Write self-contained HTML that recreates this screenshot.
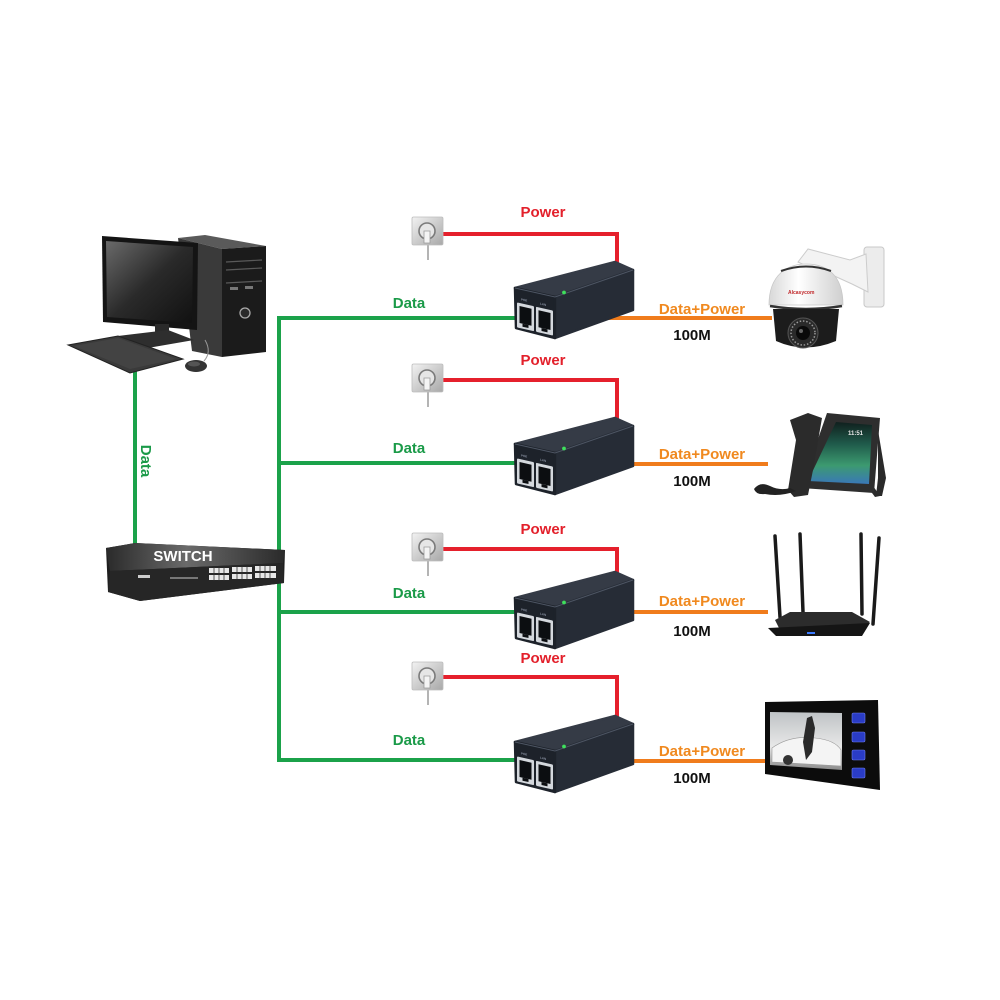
<!DOCTYPE html>
<html><head><meta charset="utf-8">
<style>
html,body{margin:0;padding:0;background:#fff;}
svg{display:block;}
text{font-family:"Liberation Sans",Arial,sans-serif;font-weight:bold;}
</style></head>
<body>
<svg width="1000" height="1000" viewBox="0 0 1000 1000" xmlns="http://www.w3.org/2000/svg">
<defs>
  <linearGradient id="scr" x1="0" y1="0" x2="1" y2="1">
    <stop offset="0" stop-color="#6a6a6a"/><stop offset="0.5" stop-color="#2a2a2a"/><stop offset="1" stop-color="#111"/>
  </linearGradient>
  <linearGradient id="sock" x1="0" y1="0" x2="1" y2="1">
    <stop offset="0" stop-color="#f2f2f2"/><stop offset="1" stop-color="#a8a8a8"/>
  </linearGradient>
  <linearGradient id="swtop" x1="0" y1="0" x2="1" y2="0">
    <stop offset="0" stop-color="#2a2a2a"/><stop offset="0.45" stop-color="#6a6a6a"/><stop offset="1" stop-color="#2a2a2a"/>
  </linearGradient>
  <linearGradient id="tab" x1="0" y1="0" x2="0" y2="1">
    <stop offset="0" stop-color="#10201e"/><stop offset="0.35" stop-color="#1f5a4a"/><stop offset="0.7" stop-color="#3c9a70"/><stop offset="1" stop-color="#3a78b8"/>
  </linearGradient>
  <linearGradient id="dome" x1="0" y1="0" x2="1" y2="0">
    <stop offset="0" stop-color="#d8d8d8"/><stop offset="0.4" stop-color="#ffffff"/><stop offset="1" stop-color="#cfcfcf"/>
  </linearGradient>
  <linearGradient id="photo" x1="0" y1="0" x2="0" y2="1">
    <stop offset="0" stop-color="#bfc3c6"/><stop offset="0.6" stop-color="#e8e8e8"/><stop offset="1" stop-color="#8a8a8a"/>
  </linearGradient>
  <g id="socket">
    <line x1="428" y1="240" x2="428" y2="260" stroke="#9a9a9a" stroke-width="1.5"/>
    <rect x="412" y="217" width="31" height="28" rx="1.5" fill="url(#sock)" stroke="#bdbdbd" stroke-width="0.8"/>
    <circle cx="427" cy="231" r="8" fill="#e6e6e6" stroke="#7a7a7a" stroke-width="1.6"/>
    <path d="M424,231 L430,231 L430,243 L424,243 Z" fill="#f4f4f4" stroke="#9a9a9a" stroke-width="0.8"/>
  </g>
  <g id="inj">
    <path d="M0,0 L40,9 L118,-18 L100,-26 Z" fill="#353b46" stroke="#353b46" stroke-width="2.5" stroke-linejoin="round"/>
    <path d="M40,9 L118,-18 L118,22 L40,50 Z" fill="#262c36" stroke="#262c36" stroke-width="2.5" stroke-linejoin="round"/>
    <path d="M0,0 L40,9 L40,50 L1,40 Z" fill="#1d222a" stroke="#1d222a" stroke-width="2.5" stroke-linejoin="round"/>
    <path d="M0,0 L40,9 L118,-18" fill="none" stroke="#4d5563" stroke-width="1"/>
    <g transform="skewY(12.7)">
      <text x="6" y="11" font-size="3" fill="#8890a0" font-weight="normal">POE</text>
      <text x="25" y="11" font-size="3" fill="#8890a0" font-weight="normal">LAN</text>
      <rect x="2" y="14" width="17" height="25" rx="1" fill="#d4d8dd"/>
      <rect x="4.5" y="17" width="12" height="17" fill="#0c0e11"/>
      <rect x="7.5" y="34" width="6" height="3" fill="#0c0e11"/>
      <rect x="21" y="14" width="17" height="25" rx="1" fill="#d4d8dd"/>
      <rect x="23.5" y="17" width="12" height="17" fill="#0c0e11"/>
      <rect x="26.5" y="34" width="6" height="3" fill="#0c0e11"/>
    </g>
    <circle cx="49" cy="4.5" r="1.9" fill="#3ee05c"/>
  </g>
</defs>

<rect width="1000" height="1000" fill="#fff"/>

<!-- green lines -->
<g stroke="#1ba24a" stroke-width="4" fill="none">
  <path d="M135,368 V552"/>
  <path d="M279,318 V760"/>
  <path d="M277,318 H518"/>
  <path d="M279,463 H518"/>
  <path d="M279,612 H518"/>
  <path d="M277,760 H518"/>
</g>
<!-- red lines -->
<g stroke="#e5202c" stroke-width="4" fill="none">
  <path d="M442,234 H617 V266"/>
  <path d="M442,380 H617 V420"/>
  <path d="M442,549 H617 V574"/>
  <path d="M442,677 H617 V718"/>
</g>
<!-- orange lines -->
<g stroke="#f07c1c" stroke-width="4" fill="none">
  <path d="M595,318 H772"/>
  <path d="M610,464 H768"/>
  <path d="M615,612 H768"/>
  <path d="M615,761 H767"/>
</g>

<!-- sockets -->
<use href="#socket"/>
<use href="#socket" transform="translate(0,147)"/>
<use href="#socket" transform="translate(0,316)"/>
<use href="#socket" transform="translate(0,445)"/>

<!-- injectors -->
<use href="#inj" transform="translate(515,288)"/>
<use href="#inj" transform="translate(515,444)"/>
<use href="#inj" transform="translate(515,598)"/>
<use href="#inj" transform="translate(515,742)"/>

<!-- labels -->
<g font-size="15" text-anchor="middle">
  <text x="543" y="217" fill="#e3202b">Power</text>
  <text x="543" y="365" fill="#e3202b">Power</text>
  <text x="543" y="534" fill="#e3202b">Power</text>
  <text x="543" y="663" fill="#e3202b">Power</text>
  <text x="409" y="308" fill="#1a9a48">Data</text>
  <text x="409" y="453" fill="#1a9a48">Data</text>
  <text x="409" y="598" fill="#1a9a48">Data</text>
  <text x="409" y="745" fill="#1a9a48">Data</text>
  <text x="702" y="314" fill="#f0891f">Data+Power</text>
  <text x="702" y="459" fill="#f0891f">Data+Power</text>
  <text x="702" y="606" fill="#f0891f">Data+Power</text>
  <text x="702" y="756" fill="#f0891f">Data+Power</text>
  <text x="692" y="340" fill="#111">100M</text>
  <text x="692" y="486" fill="#111">100M</text>
  <text x="692" y="636" fill="#111">100M</text>
  <text x="692" y="783" fill="#111">100M</text>
  <text transform="translate(141,461) rotate(90)" fill="#1a9a48">Data</text>
</g>

<!-- computer -->
<g>
  <path d="M178,238 L205,235 L266,246 L222,249 Z" fill="#5a5a5a"/>
  <path d="M178,238 L222,249 L222,357 L192,351 Z" fill="#3a3a3a"/>
  <path d="M222,249 L266,246 L266,352 L222,357 Z" fill="#1b1b1b"/>
  <g stroke="#5a5a5a" stroke-width="1.2">
    <line x1="226" y1="262" x2="262" y2="260"/>
    <line x1="226" y1="270" x2="262" y2="268"/>
    <line x1="226" y1="283" x2="262" y2="281"/>
  </g>
  <rect x="230" y="287" width="8" height="3" fill="#777"/>
  <rect x="245" y="286" width="8" height="3" fill="#777"/>
  <circle cx="245" cy="313" r="5" fill="#2a2a2a" stroke="#aaa" stroke-width="1.3"/>
  <path d="M102,236 L198,243 L197,330 L103,322 Z" fill="#141414"/>
  <path d="M106,241 L193,247 L192,323 L107,317 Z" fill="url(#scr)"/>
  <rect x="155" y="324" width="14" height="10" fill="#2a2a2a"/>
  <path d="M118,336 L168,330 L194,340 L142,349 Z" fill="#2e2e2e"/>
  <path d="M68,345 L118,336 L183,359 L130,373 Z" fill="#3a3a3a" stroke="#222" stroke-width="1"/>
  <path d="M74,346 L118,338 L176,359 L130,369 Z" fill="#4a4a4a" opacity="0.6"/>
  <path d="M205,340 Q212,352 204,361" fill="none" stroke="#999" stroke-width="1"/>
  <ellipse cx="196" cy="366" rx="11" ry="6" fill="#333"/>
  <ellipse cx="194" cy="364" rx="6" ry="2.5" fill="#555"/>
</g>

<!-- switch -->
<g>
  <path d="M106,548 L135,543 L285,550 L284,583 L140,601 L108,592 Z" fill="#1e1e1e"/>
  <path d="M106,548 L135,543 L285,550 L283,563 L110,571 Z" fill="url(#swtop)"/>
  <path d="M110,571 L283,563 L284,583 L140,601 L108,592 Z" fill="#262626"/>
  <g fill="#e8e8e8">
    <rect x="209" y="568" width="20" height="5"/><rect x="232" y="567" width="20" height="5"/><rect x="255" y="566" width="21" height="5"/>
    <rect x="209" y="575" width="20" height="5"/><rect x="232" y="574" width="20" height="5"/><rect x="255" y="573" width="21" height="5"/>
  </g>
  <g stroke="#333" stroke-width="0.8">
    <line x1="214" y1="567" x2="214" y2="581"/><line x1="219" y1="567" x2="219" y2="581"/><line x1="224" y1="567" x2="224" y2="581"/>
    <line x1="237" y1="566" x2="237" y2="580"/><line x1="242" y1="566" x2="242" y2="580"/><line x1="247" y1="566" x2="247" y2="580"/>
    <line x1="260" y1="565" x2="260" y2="579"/><line x1="265" y1="565" x2="265" y2="579"/><line x1="270" y1="565" x2="270" y2="579"/>
  </g>
  <rect x="138" y="575" width="12" height="3" fill="#ccc"/>
  <rect x="170" y="577" width="28" height="2" fill="#777"/>
  <text x="183" y="561" font-size="15" fill="#fff" text-anchor="middle">SWITCH</text>
</g>

<!-- camera -->
<g>
  <rect x="864" y="247" width="20" height="60" rx="3" fill="#ececec" stroke="#c8c8c8"/>
  <path d="M798,262 L808,249 L850,260 L866,254 L868,292 L852,284 L830,274 L815,270 Z" fill="#f3f3f3" stroke="#cccccc" stroke-width="1"/>
  <path d="M769,305 C769,274 788,264 806,264 C826,264 843,274 843,305 Z" fill="url(#dome)" stroke="#c8c8c8" stroke-width="0.8"/>
  <path d="M781,271 Q806,262 831,271" fill="none" stroke="#333" stroke-width="2"/>
  <path d="M770,306 Q806,312 842,306" fill="none" stroke="#333" stroke-width="2.5"/>
  <text x="788" y="294" font-size="5" fill="#c0282a">Alcasycom</text>
  <path d="M773,309 L839,309 L836,341 Q805,354 776,341 Z" fill="#1c1c1c"/>
  <circle cx="803" cy="333" r="15" fill="#2a2a2a" stroke="#555" stroke-width="1"/>
  <circle cx="803" cy="333" r="12" fill="none" stroke="#999" stroke-width="1.5" stroke-dasharray="1.5 1.8"/>
  <circle cx="803" cy="333" r="7" fill="#0a0a0a"/>
  <circle cx="801" cy="331" r="2" fill="#666"/>
</g>

<!-- phone -->
<g>
  <path d="M878,430 L886,478 L882,496 L876,496 L878,478 Z" fill="#2a2a2a"/>
  <path d="M862,470 L880,496 L875,497 L858,474 Z" fill="#2a2a2a"/>
  <path d="M827,413 L880,418 L874,493 L801,488 Z" fill="#2e2e2e"/>
  <path d="M836,422 L872,425 L869,484 L808,481 Z" fill="url(#tab)"/>
  <text x="848" y="435" font-size="6" fill="#e8e8e8" font-weight="normal">11:51</text>
  <path d="M790,420 L808,413 L822,418 L813,470 L808,495 L794,497 L788,490 L796,440 Z" fill="#2b2b2b"/>
  <path d="M754,489 Q760,481 770,486 Q780,491 790,488 L796,491 Q780,497 765,494 Q756,495 754,489 Z" fill="#222"/>
</g>

<!-- router -->
<g>
  <g stroke="#1a1a1a" stroke-width="3.5" stroke-linecap="round">
    <line x1="775" y1="536" x2="780" y2="617"/>
    <line x1="800" y1="534" x2="803" y2="612"/>
    <line x1="861" y1="534" x2="862" y2="614"/>
    <line x1="879" y1="538" x2="873" y2="624"/>
  </g>
  <path d="M775,620 L790,612 L852,612 L870,622 L862,630 L780,630 Z" fill="#2c2c2c"/>
  <path d="M768,628 L870,623 L862,636 L776,636 Z" fill="#151515"/>
  <rect x="807" y="632" width="8" height="2" fill="#3a7aff"/>
</g>

<!-- video monitor -->
<g>
  <path d="M765,702 L878,700 L880,790 L765,774 Z" fill="#0c0c0c"/>
  <path d="M770,712 L842,713 L842,770 L770,765 Z" fill="url(#photo)"/>
  <path d="M772,748 Q790,735 815,738 Q835,740 841,750 L841,766 L772,762 Z" fill="#f4f4f4" stroke="#999" stroke-width="0.6"/>
  <circle cx="788" cy="760" r="5" fill="#333"/>
  <path d="M807,718 L812,716 L815,728 L812,752 L806,760 L803,742 Z" fill="#2a2a2a"/>
  <g fill="#2a3cc6" stroke="#6a7cf0" stroke-width="0.6">
    <rect x="852" y="713" width="13" height="10" rx="1.5"/>
    <rect x="852" y="732" width="13" height="10" rx="1.5"/>
    <rect x="852" y="750" width="13" height="10" rx="1.5"/>
    <rect x="852" y="768" width="13" height="10" rx="1.5"/>
  </g>
</g>
</svg>
</body></html>
